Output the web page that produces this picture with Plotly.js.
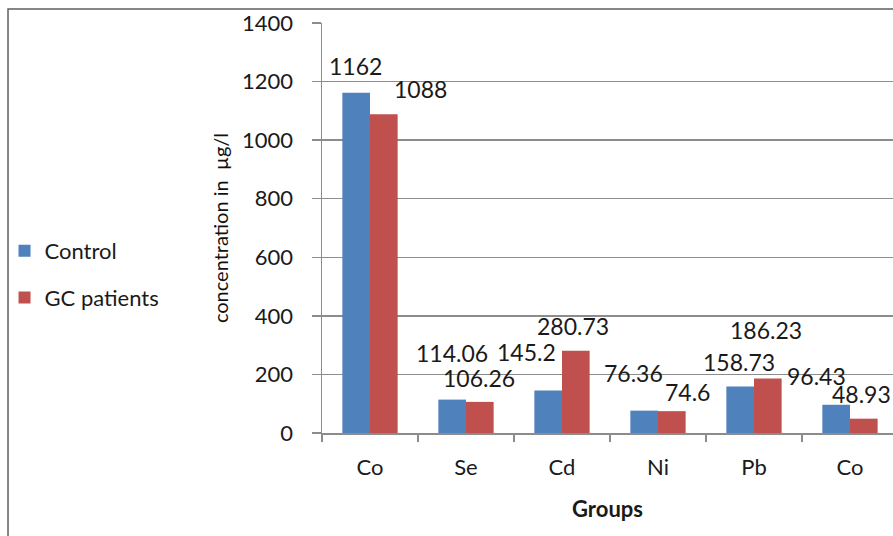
<!DOCTYPE html>
<html>
<head>
<meta charset="utf-8">
<script src="https://cdn.plot.ly/plotly-3.0.1.min.js"></script>
<style>
  html, body { margin: 0; padding: 0; background: #ffffff; overflow: hidden; }
  #chart { width: 893px; height: 536px; }
</style>
</head>
<body>
<div id="chart"></div>
<script>
// Trace element groups and mean concentrations (µg/l)
const groups = ['Co', 'Se', 'Cd', 'Ni', 'Pb', 'Co'];
const controlValues = [1162, 114.06, 145.2, 76.36, 158.73, 96.43];
const patientValues = [1088, 106.26, 280.73, 74.6, 186.23, 48.93];
const seriesNames = ['Control', 'GC patients'];

// Pixel offsets of each value label from the top of its group
const controlLabelShift = [[-15, 27], [-14, 47], [-36, 38], [-25, 38], [-15, 25], [-33, 29]];
const patientLabelShift = [[50, 25], [13, 24], [11, 25], [29, 19], [12, 48], [12, 25]];

const FONT = 'Lato, "Open Sans", "DejaVu Sans", sans-serif';
const BLUE = '#4f81bd';
const RED = '#c0504d';
const AXIS_GRAY = '#8c8c8c';

const xPos = groups.map((_, i) => i);

const traces = [
  {
    type: 'bar', name: seriesNames[0], x: xPos, y: controlValues,
    marker: { color: BLUE }, legendgroup: 'control', hoverinfo: 'y'
  },
  {
    type: 'bar', name: seriesNames[1], x: xPos, y: patientValues,
    marker: { color: RED }, legendgroup: 'patients', hoverinfo: 'y'
  }
];

function valueLabels(values, shifts) {
  return values.map((v, i) => ({
    x: i, y: v, xref: 'x', yref: 'y',
    text: String(v), showarrow: false,
    xshift: shifts[i][0], yshift: shifts[i][1],
    font: { family: FONT, size: 23, color: '#1a1a1a' }
  }));
}

const layout = {
  width: 893, height: 536,
  margin: { l: 322, r: 0, t: 23, b: 103, pad: 0 },
  paper_bgcolor: '#ffffff', plot_bgcolor: '#ffffff',
  font: { family: FONT, size: 22, color: '#1a1a1a' },
  barmode: 'group', bargap: 0.424, bargroupgap: 0,
  showlegend: true,
  legend: {
    x: -0.556, xanchor: 'left', y: 0.495, yanchor: 'top',
    font: { family: FONT, size: 22, color: '#1a1a1a' },
    traceorder: 'grouped', tracegroupgap: 15,
    bgcolor: 'rgba(0,0,0,0)'
  },
  xaxis: {
    type: 'linear', range: [-0.5, 5.448], fixedrange: true,
    tickmode: 'array', tickvals: xPos, ticktext: groups,
    ticks: '', showgrid: false, zeroline: false,
    showline: true, linecolor: AXIS_GRAY, linewidth: 1.5,
    tickfont: { family: FONT, size: 22, color: '#1a1a1a' },
    ticklabelstandoff: 14,
    minor: { tick0: 0.5, dtick: 1, ticks: 'outside', ticklen: 7, tickcolor: AXIS_GRAY, tickwidth: 1.5, showgrid: false },
    title: { text: '<b>Groups</b>', font: { family: FONT, size: 22, color: '#1a1a1a' }, standoff: 22 }
  },
  yaxis: {
    range: [0, 1400], dtick: 200, tick0: 0, fixedrange: true,
    ticks: 'outside', ticklen: 9, tickcolor: AXIS_GRAY, tickwidth: 1.5,
    showline: true, linecolor: AXIS_GRAY, linewidth: 1.5,
    showgrid: true, gridcolor: AXIS_GRAY, gridwidth: 1.5, zeroline: false,
    tickfont: { family: FONT, size: 22, color: '#1a1a1a' },
    ticklabelstandoff: 14,
    title: { text: 'concentration in  µg/l', font: { family: FONT, size: 20, color: '#111111' }, standoff: 8 }
  },
  annotations: valueLabels(controlValues, controlLabelShift)
    .concat(valueLabels(patientValues, patientLabelShift)),
  shapes: [
    {
      type: 'rect', xref: 'paper', yref: 'paper',
      x0: -0.5499, x1: 1.2, y0: -0.6, y1: 1.0341,
      line: { color: '#5f5f5f', width: 1.5 }, fillcolor: 'rgba(0,0,0,0)', layer: 'above'
    }
  ]
};

Plotly.newPlot('chart', traces, layout, { displayModeBar: false, responsive: false, staticPlot: true });
</script>
</body>
</html>
